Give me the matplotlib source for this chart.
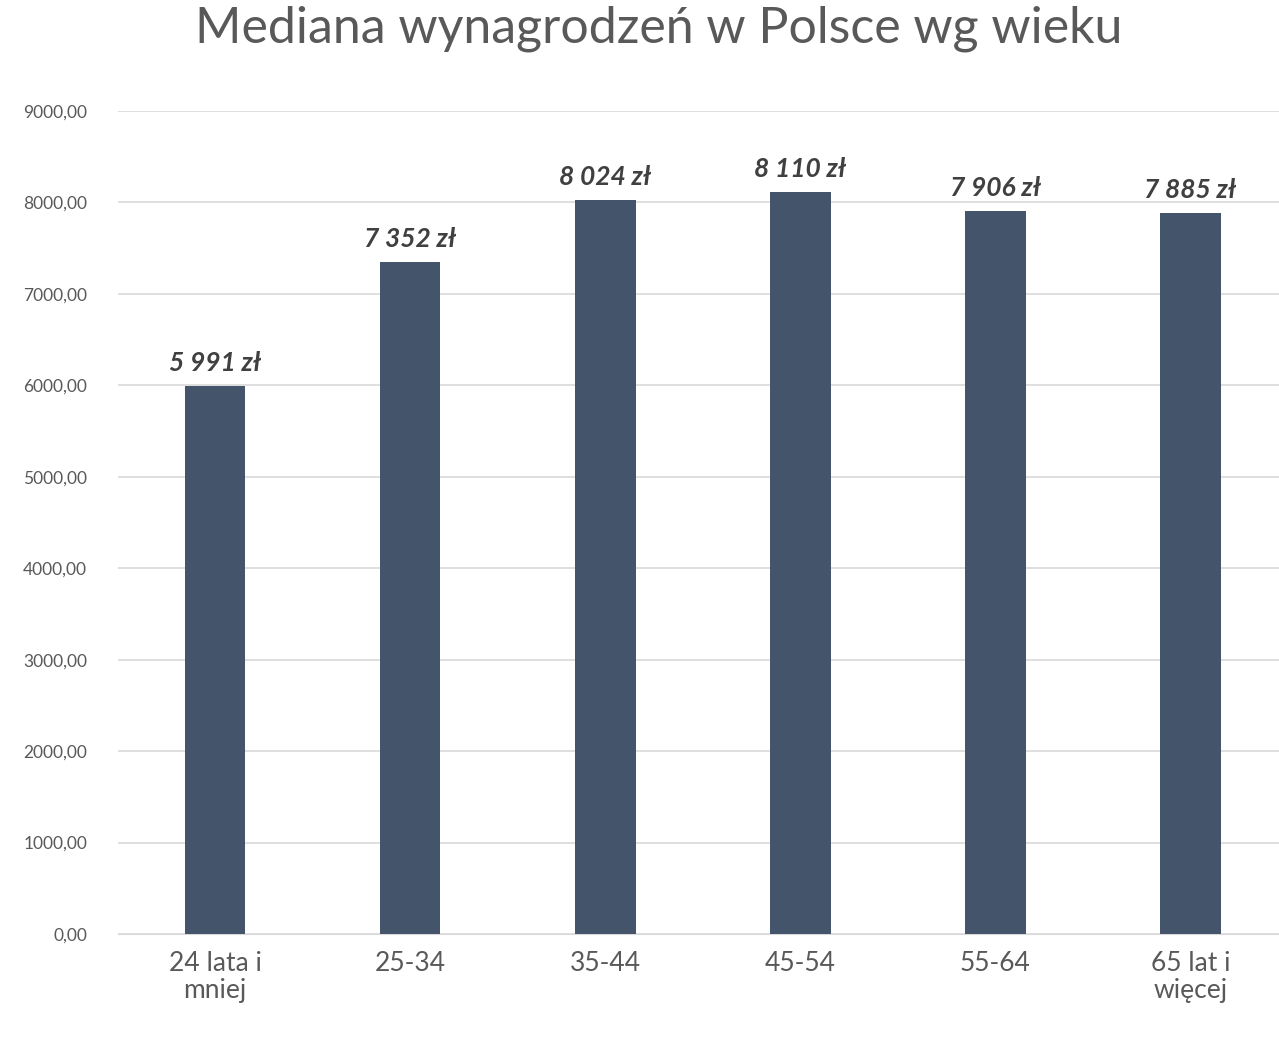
import matplotlib
matplotlib.use("Agg")
from matplotlib import pyplot as plt
import numpy as np

plt.rcParams['font.family'] = ['Lato', 'DejaVu Sans']

categories = ["24 lata i\nmniej", "25-34", "35-44", "45-54", "55-64", "65 lat i\nwięcej"]
values = [5991, 7352, 8024, 8110, 7906, 7885]
labels = ["5 991 zł", "7 352 zł", "8 024 zł", "8 110 zł", "7 906 zł", "7 885 zł"]
yticks = np.arange(0, 9001, 1000)

fig = plt.figure(figsize=(12.79, 10.56), dpi=100)
ax = fig.add_axes([0.092, 0.1155, 0.915, 0.7795])
x = np.arange(len(categories))
ax.bar(x, values, width=0.31, color="#44546A", zorder=3)
for xi, v, lab in zip(x, values, labels):
    ax.text(xi, v + 120, lab, ha="center", va="bottom", fontsize=19,
            fontweight="bold", fontstyle="italic", color="#404040")

ax.set_xlim(-0.5, 5.5)
ax.set_ylim(0, 9000)
ax.set_yticks(yticks)
ax.set_yticklabels([f"{t},00" for t in yticks], fontsize=12.5, color="#595959")
ax.set_xticks(x)
ax.set_xticklabels(categories, fontsize=19, color="#595959", linespacing=1.1)
ax.grid(axis="y", color="#D9D9D9", linewidth=1.2, zorder=0)
for s in ["top", "right", "left"]:
    ax.spines[s].set_visible(False)
ax.spines["bottom"].set_color("#D9D9D9")
ax.tick_params(axis="both", length=0)
ax.tick_params(axis="y", pad=22)
ax.tick_params(axis="x", pad=12)

fig.suptitle("Mediana wynagrodzeń w Polsce wg wieku", fontsize=36, color="#595959",
             x=0.515, y=0.995)
fig.savefig("out.png", dpi=100)
